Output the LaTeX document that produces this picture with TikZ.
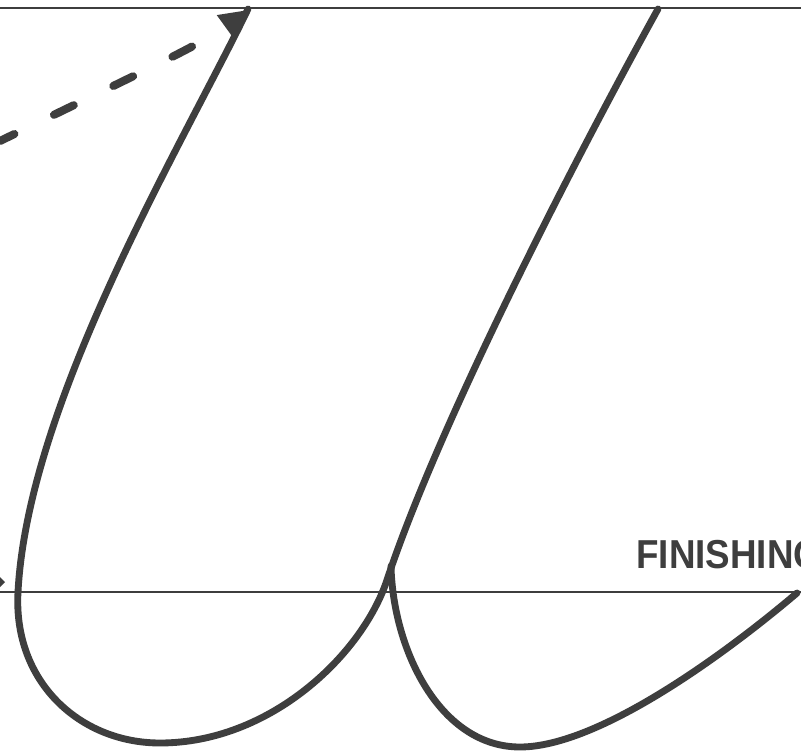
\documentclass[tikz,border=0pt]{standalone}
\usepackage{fontspec}
\setmainfont{Liberation Sans}
\usetikzlibrary{arrows.meta}
\definecolor{InkGray}{RGB}{62,62,62}
\tikzset{
  ink/.style={draw=InkGray,line width=3.9pt,line cap=round,line join=round},
  rule/.style={draw=InkGray,line width=1.1pt},
  trail/.style={draw=InkGray,line width=4.6pt,line cap=round,dash pattern=on 0.44cm off 0.88cm,dash phase=0.12cm},
  lab/.style={inner sep=0pt,anchor=base west,text=InkGray,font=\bfseries\fontsize{23}{24}\selectfont,xscale=0.91},
}

\begin{document}
\begin{tikzpicture}[x=0.02cm,y=-0.02cm]
\fill[white] (0,0) rectangle (801,753);
\useasboundingbox (0,0) rectangle (801,753);
\clip (0,0) rectangle (801,753);
\coordinate (ta) at (0,8);
\coordinate (tb) at (801,8);
\coordinate (ba) at (0,592);
\coordinate (bb) at (801,592);
\coordinate (lt) at (248,9);
\coordinate (lb) at (18,592);
\coordinate (lo) at (160,743);
\coordinate (cr) at (387,580);
\coordinate (rt) at (658,9);
\coordinate (cs) at (391,566);
\coordinate (ro) at (520,747);
\coordinate (re) at (797,593);
\coordinate (ds) at (0,141);
\coordinate (dc) at (200,44);
\coordinate (de) at (247,10);
% guide lines
\draw[rule] (ta)--(tb);
\draw[rule] (ba)--(bb);
% first stroke and loop
\draw[ink] (lt) .. controls (185,140) and (28,400) .. (lb)
  .. controls (13,682) and (80,743) .. (lo)
  .. controls (270,743) and (362,655) .. (cr)
  .. controls (440,420) and (580,150) .. (rt);
% second loop
\draw[ink] (cs) .. controls (393,650) and (440,747) .. (ro)
  .. controls (600,747) and (730,650) .. (re);
% dashed lead-in
\draw[trail,-{Triangle[length=0.55cm,width=0.5cm]}] (ds) .. controls (dc) .. (de);
% cut-off mark at the left edge
\fill[InkGray] (0,577) -- (5,582) -- (0,587) -- cycle;
\node[lab] (fin) at (636,568) {FINISHING};
\end{tikzpicture}
\end{document}
